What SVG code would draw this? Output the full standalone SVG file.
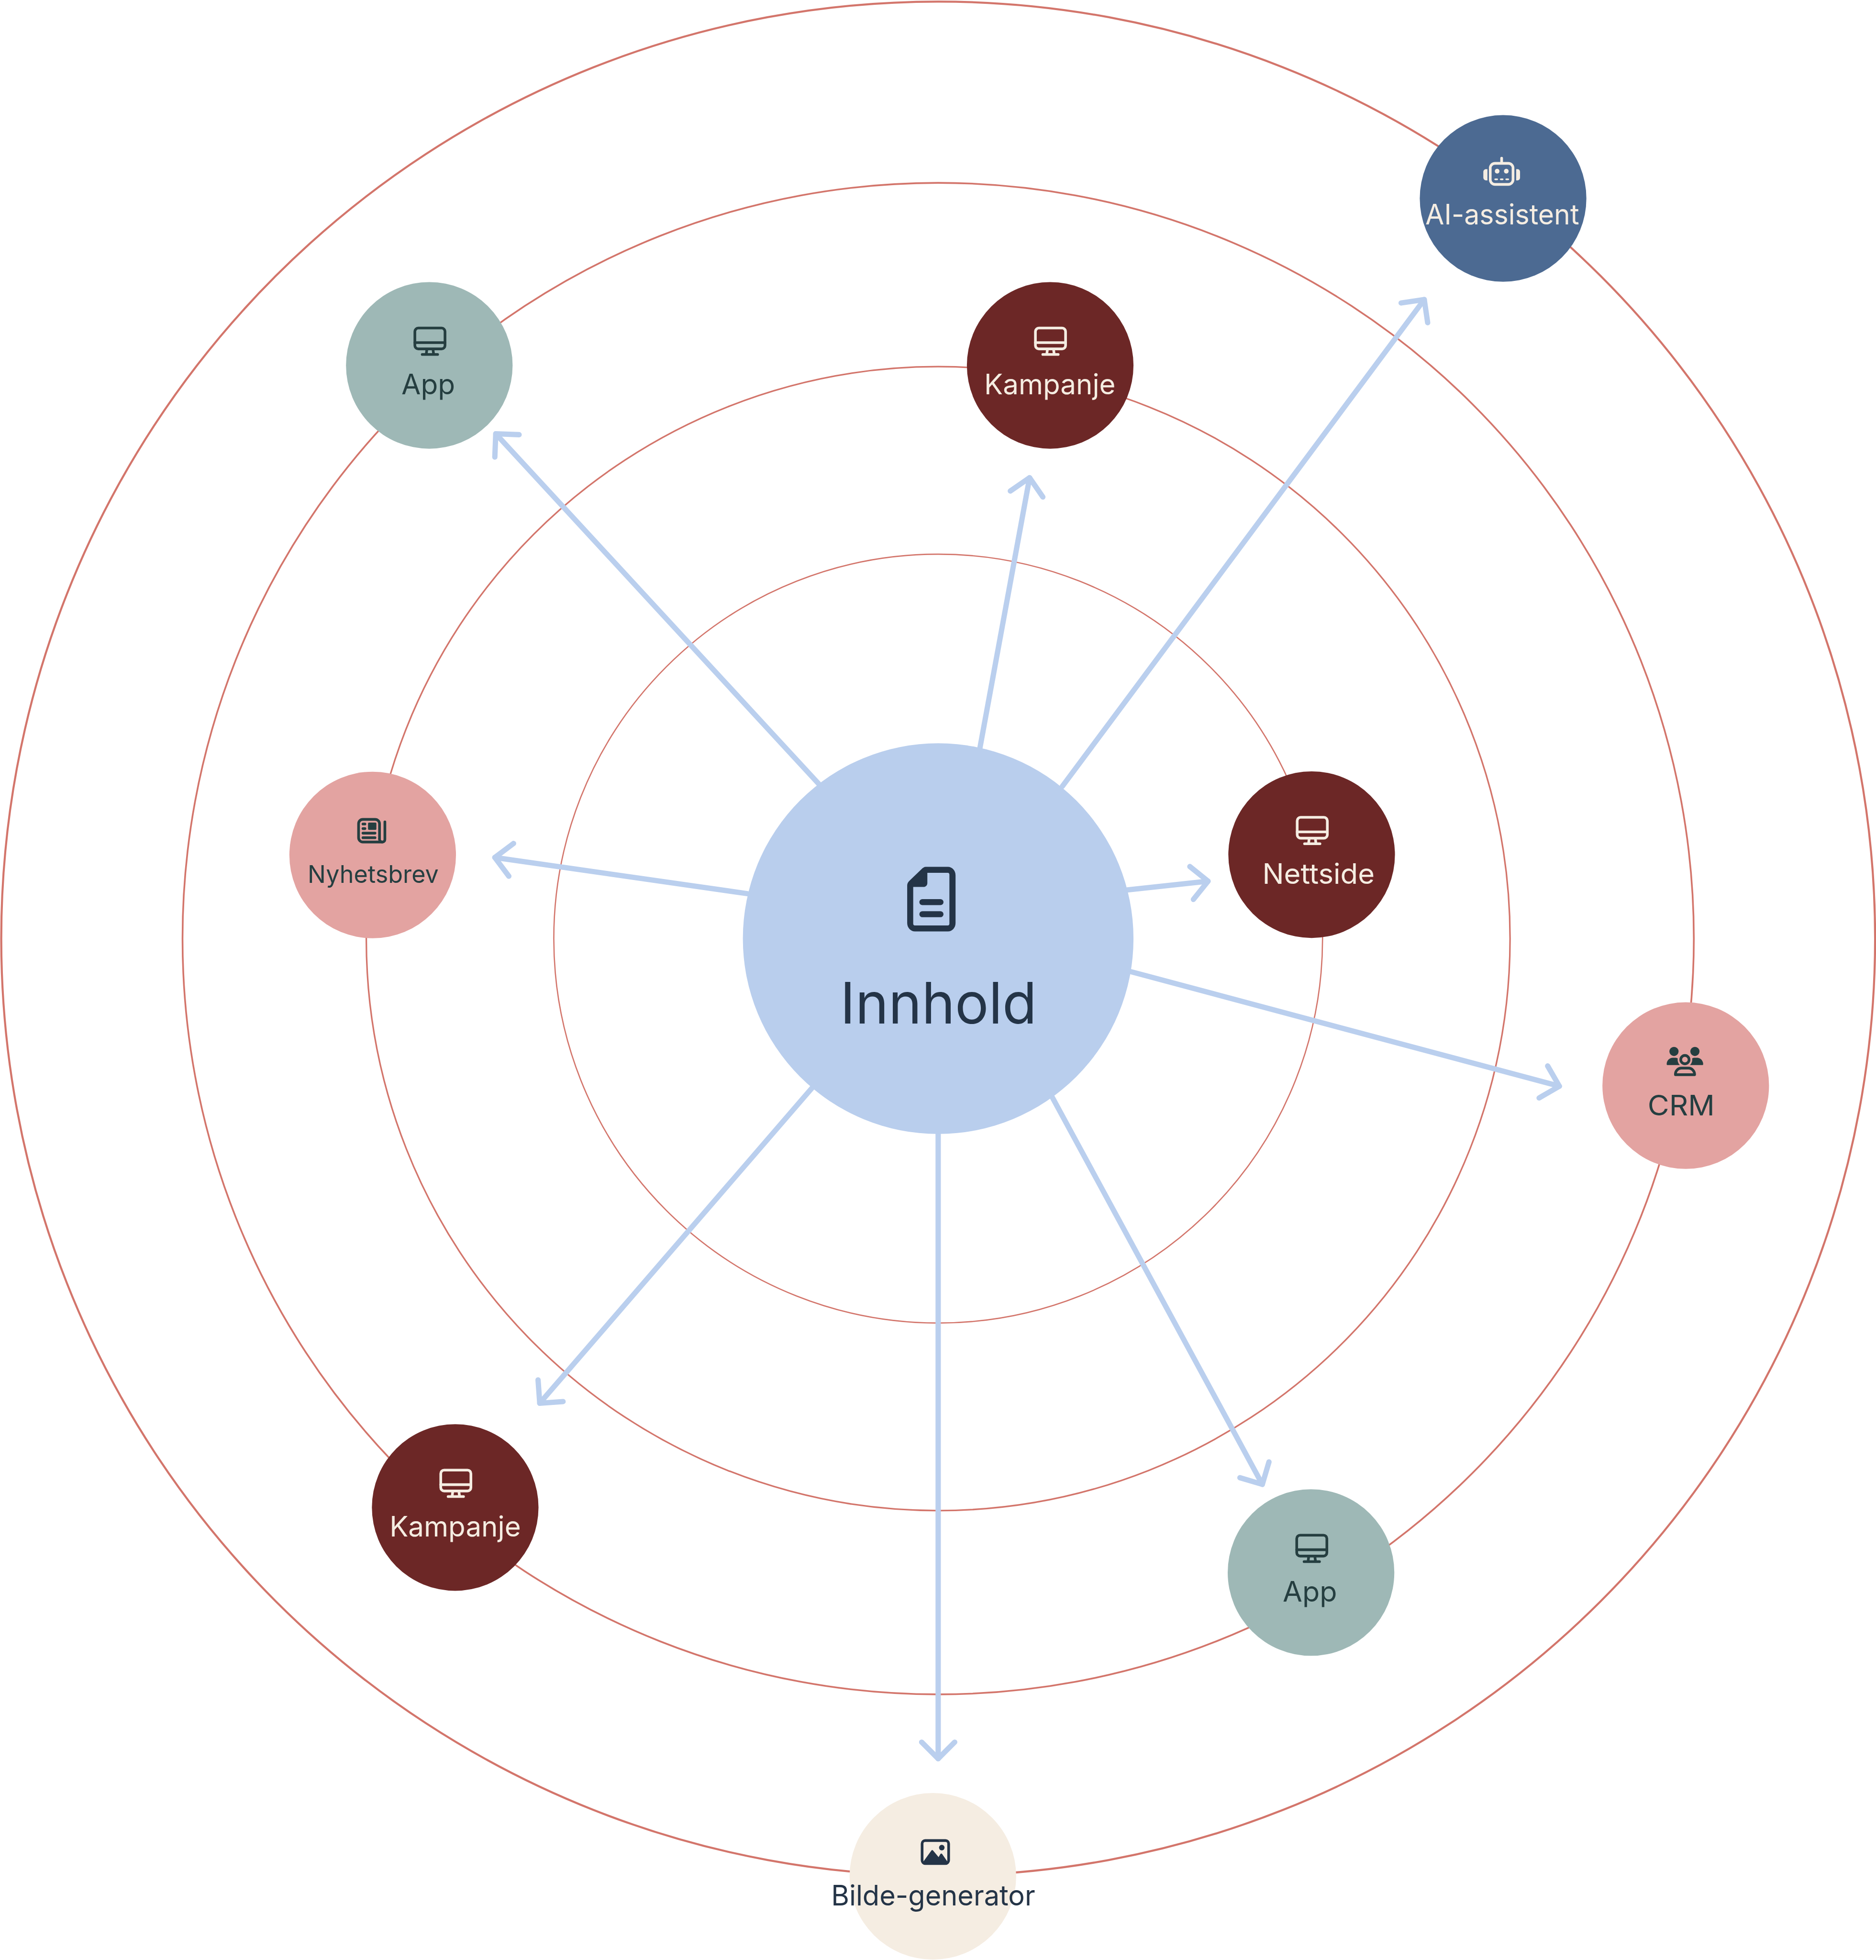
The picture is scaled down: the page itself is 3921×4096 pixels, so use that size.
<svg xmlns="http://www.w3.org/2000/svg" xmlns:xlink="http://www.w3.org/1999/xlink" width="3921" height="4096" viewBox="0 0 3921 4096">
<style>
.ring{fill:none;stroke:#d3756b}
.arrow{fill:none;stroke:#bacfee;stroke-width:17;stroke-linecap:round;marker-end:url(#head)}
text{font-family:"Inter","Liberation Sans",sans-serif;font-size:91px;text-anchor:middle;fill:currentColor}
.line{fill:none;stroke:currentColor;stroke-width:8.6;stroke-linecap:round;stroke-linejoin:round}
.solid{fill:currentColor;stroke:none}
.light{color:#f5ede2}.dark{color:#253e40}.navy{color:#243447}
</style>
<defs>
<marker id="head" markerUnits="userSpaceOnUse" markerWidth="140" markerHeight="140" refX="70" refY="70" orient="auto" overflow="visible">
<path d="M17 17L70 70L17 123" fill="none" stroke="#bacfee" stroke-width="17" stroke-linecap="round" stroke-linejoin="round"/>
</marker>
<g id="monitor">
<rect class="line" x="-48.3" y="-119.7" width="96.6" height="66.9" rx="11"/>
<path class="line" d="M-48.3 -73.1H48.3M-10 -50L-12 -35M10 -50L12 -35M-24.7 -35H24.7"/>
</g>
</defs>
<rect width="3921" height="4096" fill="#ffffff"/>
<g transform="scale(0.6521)">
<g id="rings">
<circle class="ring" cx="3007" cy="3008" r="1232" stroke-width="4"/>
<circle class="ring" cx="3007" cy="3008" r="1833" stroke-width="5"/>
<circle class="ring" cx="3007" cy="3008" r="2422" stroke-width="5.5"/>
<circle class="ring" cx="3007" cy="3008" r="3003" stroke-width="6.5"/>
</g>
<g id="connectors">
<path class="arrow" d="M2624 2512L1589 1390"/>
<path class="arrow" d="M3141 2396L3300 1531"/>
<path class="arrow" d="M3405 2520L4565 960"/>
<path class="arrow" d="M3613 2852L3872 2824"/>
<path class="arrow" d="M3621 3113L4998 3481"/>
<path class="arrow" d="M3373 3517L4046 4757"/>
<path class="arrow" d="M3007 3630V5636"/>
<path class="arrow" d="M2604 3485L1730 4497"/>
<path class="arrow" d="M2396 2864L1586 2748"/>
</g>
<g id="node-innhold" class="navy">
<circle cx="3007" cy="3008" r="626" fill="#b9ceed"/>
<path class="solid" fill-rule="evenodd" d="M2968 2778H3038C3052 2778 3062.7 2790 3062.7 2805V2958C3062.7 2973 3052 2985 3038 2985H2933C2919 2985 2907.7 2973 2907.7 2958V2837.5C2907.7 2831 2911 2826 2916.7 2821L2953 2785.9C2958 2781 2962 2778 2968 2778ZM2972.3 2797.3V2829.9C2972.3 2837 2967 2842.5 2960 2842.5H2927V2960C2927 2963.5 2929 2965.7 2932 2965.7H3038C3041 2965.7 3043 2963.5 3043 2960V2803C3043 2799.5 3041 2797.3 3038 2797.3Z"/>
<rect class="solid" x="2946.7" y="2881.5" width="77.3" height="19.2" rx="9.6"/>
<rect class="solid" x="2946.7" y="2920" width="77.3" height="19.5" rx="9.7"/>
<text x="3008" y="3280" style="font-size:183px" textLength="630" lengthAdjust="spacingAndGlyphs">Innhold</text>
</g>
<g id="node-ai-assistent" class="light">
<circle cx="4817.6" cy="636" r="267" fill="#4c6a92"/>
<rect class="line" x="4776.5" y="523.5" width="73" height="67.5" rx="15" stroke-width="9"/>
<path class="line" d="M4813 507V519"/>
<path class="solid" d="M4767.5 542V578H4763C4758 578 4754.3 574 4754.3 569V551C4754.3 546 4758 542 4763 542ZM4859.6 542V578H4864C4869 578 4872 574 4872 569V551C4872 546 4869 542 4864 542Z"/>
<circle class="solid" cx="4798.6" cy="548.6" r="7.5"/>
<circle class="solid" cx="4827.9" cy="548.6" r="7.5"/>
<rect class="solid" x="4789.6" y="571.9" width="11.8" height="5.4" rx="2.7"/>
<rect class="solid" x="4807.5" y="571.9" width="11.5" height="5.4" rx="2.7"/>
<rect class="solid" x="4825" y="571.9" width="11.8" height="5.4" rx="2.7"/>
<text x="4815" y="719.6" textLength="493" lengthAdjust="spacingAndGlyphs">AI-assistent</text>
</g>
<g id="node-app-top" class="dark">
<circle cx="1376" cy="1171" r="267" fill="#9eb8b6"/>
<use href="#monitor" x="1378" y="1171"/>
<text x="1372.7" y="1264" textLength="172" lengthAdjust="spacingAndGlyphs">App</text>
</g>
<g id="node-kampanje-top" class="light">
<circle cx="3366" cy="1171" r="267" fill="#6c2726"/>
<use href="#monitor" x="3367" y="1171"/>
<text x="3365" y="1264" textLength="421" lengthAdjust="spacingAndGlyphs">Kampanje</text>
</g>
<g id="node-nettside" class="light">
<circle cx="4204" cy="2739" r="267" fill="#6c2726"/>
<use href="#monitor" x="4206" y="2739"/>
<text x="4226" y="2832.5" textLength="360" lengthAdjust="spacingAndGlyphs">Nettside</text>
</g>
<g id="node-nyhetsbrev" class="dark">
<circle cx="1194.5" cy="2740" r="267" fill="#e3a3a1"/>
<path class="line" d="M1216.4 2689V2640C1216.4 2632 1210 2626 1202.4 2626H1163C1155 2626 1149.3 2632 1149.3 2640V2684C1149.3 2692 1155 2698.4 1163 2698.4H1225C1230 2698.4 1233.6 2695 1233.6 2690V2634"/>
<path class="line" d="M1216.4 2689C1216.4 2694 1220 2698.4 1225 2698.4"/>
<path class="line" d="M1163.3 2640.7H1169.7M1163.3 2655.4H1169.7M1163.3 2670H1202M1163.3 2684.6H1202"/>
<rect class="solid" x="1179.6" y="2636" width="26.8" height="23.3" rx="3"/>
<text x="1196" y="2830" style="font-size:77px" textLength="420" lengthAdjust="spacingAndGlyphs">Nyhetsbrev</text>
</g>
<g id="node-crm" class="dark">
<circle cx="5403" cy="3479" r="267" fill="#e3a3a1"/>
<circle class="solid" cx="5365.4" cy="3369.6" r="14.7"/>
<circle class="solid" cx="5432.5" cy="3369.6" r="14.7"/>
<circle class="line" cx="5400.4" cy="3395.7" r="13.4"/>
<path class="solid" d="M5342 3410C5342 3399 5351 3390 5362 3390H5370C5373 3390 5375 3391 5377.5 3392C5376 3400 5379 3408 5384.3 3413.2H5345C5343 3413.2 5342 3412 5342 3410Z"/>
<path class="solid" d="M5459 3410C5459 3399 5450 3390 5439 3390H5431C5428 3390 5426 3391 5423.5 3392C5425 3400 5422 3408 5416.7 3413.2H5456C5458 3413.2 5459 3412 5459 3410Z"/>
<path class="line" d="M5370 3444H5431.5C5431.5 3432 5423 3423 5412 3423H5389C5378 3423 5369.5 3432 5370 3444Z"/>
<text x="5388.5" y="3574" textLength="215" lengthAdjust="spacingAndGlyphs">CRM</text>
</g>
<g id="node-kampanje-bottom" class="light">
<circle cx="1459" cy="4831" r="267" fill="#6c2726"/>
<use href="#monitor" x="1461" y="4831"/>
<text x="1459" y="4924.6" textLength="421" lengthAdjust="spacingAndGlyphs">Kampanje</text>
</g>
<g id="node-app-bottom" class="dark">
<circle cx="4202" cy="5039.5" r="267" fill="#9eb8b6"/>
<use href="#monitor" x="4204.5" y="5039.5"/>
<text x="4198.5" y="5132.5" textLength="174" lengthAdjust="spacingAndGlyphs">App</text>
</g>
<g id="node-bilde-generator" class="navy">
<circle cx="2990" cy="6013" r="267" fill="#f5ede2"/>
<rect class="line" x="2955.5" y="5898.5" width="85" height="73.5" rx="10"/>
<circle class="solid" cx="3018.6" cy="5921" r="8.9"/>
<path class="solid" d="M2958 5968L2985 5931Q2988 5927 2991 5931L3008.3 5951.5L3014 5942Q3017 5938 3020 5942L3038 5968V5974H2958Z"/>
<text x="2991" y="6106.4" textLength="654" lengthAdjust="spacingAndGlyphs">Bilde-generator</text>
</g>
</g>
</svg>
